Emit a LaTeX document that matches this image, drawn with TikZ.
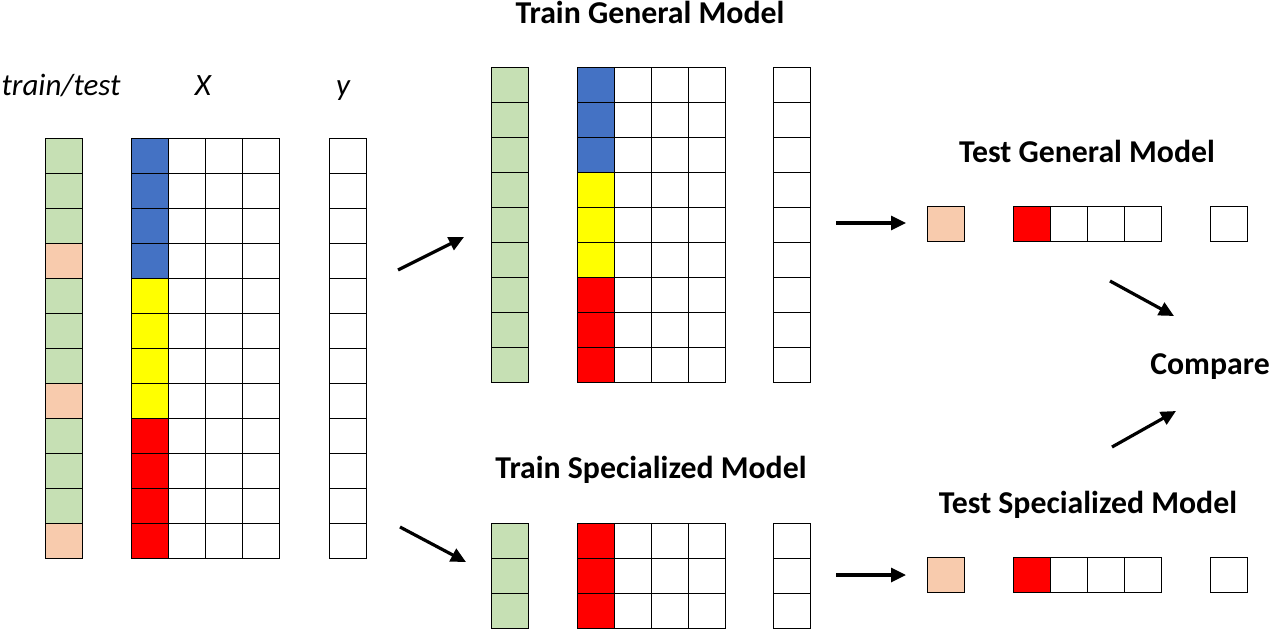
\documentclass[tikz,border=0pt]{standalone}
\usepackage{fontspec}
\setmainfont{Carlito}
\usetikzlibrary{arrows.meta}
\definecolor{cgreen}{RGB}{198,224,180}
\definecolor{cpeach}{RGB}{248,203,173}
\definecolor{cblue}{RGB}{68,114,196}
\definecolor{cyellow}{RGB}{255,255,0}
\definecolor{cred}{RGB}{255,0,0}
\begin{document}
\begin{tikzpicture}[x=1pt,y=-1pt,
  cell/.style={draw=black, line width=1.4pt, minimum width=37pt, minimum height=35pt, inner sep=0pt, anchor=north west},
  title/.style={font=\fontsize{31.8}{36}\selectfont\bfseries, inner sep=0pt, anchor=base},
  hdr/.style={font=\fontsize{31}{35}\selectfont\itshape, inner sep=0pt, anchor=base},
  arr/.style={line width=3.2pt, -{Triangle[length=15pt,width=14pt]}}]
\useasboundingbox (0,0) rectangle (1271,630);
% ---------- left: full data ----------
\foreach \i/\c in {0/cgreen,1/cgreen,2/cgreen,3/cpeach,4/cgreen,5/cgreen,6/cgreen,7/cpeach,8/cgreen,9/cgreen,10/cgreen,11/cpeach}{
  \node[cell, fill=\c] (tt\i) at (45,138+35*\i) {};
}
\foreach \i/\c in {0/cblue,1/cblue,2/cblue,3/cblue,4/cyellow,5/cyellow,6/cyellow,7/cyellow,8/cred,9/cred,10/cred,11/cred}{
  \node[cell, fill=\c] (xa\i) at (131,138+35*\i) {};
  \foreach \k in {1,2,3}{ \node[cell] (xa\i-\k) at (131+37*\k,138+35*\i) {}; }
  \node[cell] (ya\i) at (329,138+35*\i) {};
}
\node[hdr] (lblTT) at (61,95) {train/test};
\node[hdr] (lblX) at (203,95) {X};
\node[hdr] (lblY) at (343,95) {y};
% ---------- middle top: general training ----------
\node[title] (tgm) at (650,23) {Train General Model};
\foreach \i/\c in {0/cblue,1/cblue,2/cblue,3/cyellow,4/cyellow,5/cyellow,6/cred,7/cred,8/cred}{
  \node[cell, fill=cgreen] (gt\i) at (491,67+35*\i) {};
  \node[cell, fill=\c] (gx\i) at (577,67+35*\i) {};
  \foreach \k in {1,2,3}{ \node[cell] (gx\i-\k) at (577+37*\k,67+35*\i) {}; }
  \node[cell] (gy\i) at (773,67+35*\i) {};
}
% ---------- middle bottom: specialized training ----------
\node[title] (tsm) at (651,478) {Train Specialized Model};
\foreach \i in {0,1,2}{
  \node[cell, fill=cgreen] (st\i) at (491,523+35*\i) {};
  \node[cell, fill=cred] (sx\i) at (577,523+35*\i) {};
  \foreach \k in {1,2,3}{ \node[cell] (sx\i-\k) at (577+37*\k,523+35*\i) {}; }
  \node[cell] (sy\i) at (773,523+35*\i) {};
}
% ---------- right: tests ----------
\node[title] (tgt) at (1087,162) {Test General Model};
\node[cell, fill=cpeach] (rgt) at (927,206) {};
\node[cell, fill=cred] (rgx) at (1013,206) {};
\foreach \k in {1,2,3}{ \node[cell] (rgx-\k) at (1013+37*\k,206) {}; }
\node[cell] (rgy) at (1210,206) {};
\node[title] (tst) at (1088,513) {Test Specialized Model};
\node[cell, fill=cpeach] (rst) at (927,557) {};
\node[cell, fill=cred] (rsx) at (1013,557) {};
\foreach \k in {1,2,3}{ \node[cell] (rsx-\k) at (1013+37*\k,557) {}; }
\node[cell] (rsy) at (1210,557) {};
\node[title] (cmp) at (1210,374) {Compare};
% ---------- arrows ----------
\coordinate (a1s) at (398,270); \coordinate (a1e) at (464,237);
\coordinate (a2s) at (400,527); \coordinate (a2e) at (466,562);
\coordinate (a3s) at (836,223); \coordinate (a3e) at (906,223);
\coordinate (a4s) at (836,575); \coordinate (a4e) at (906,575);
\coordinate (a5s) at (1110,281); \coordinate (a5e) at (1174,316);
\coordinate (a6s) at (1112,447); \coordinate (a6e) at (1176,411);
\draw[arr] (a1s) -- (a1e);
\draw[arr] (a2s) -- (a2e);
\draw[arr] (a3s) -- (a3e);
\draw[arr] (a4s) -- (a4e);
\draw[arr] (a5s) -- (a5e);
\draw[arr] (a6s) -- (a6e);
\end{tikzpicture}
\end{document}
